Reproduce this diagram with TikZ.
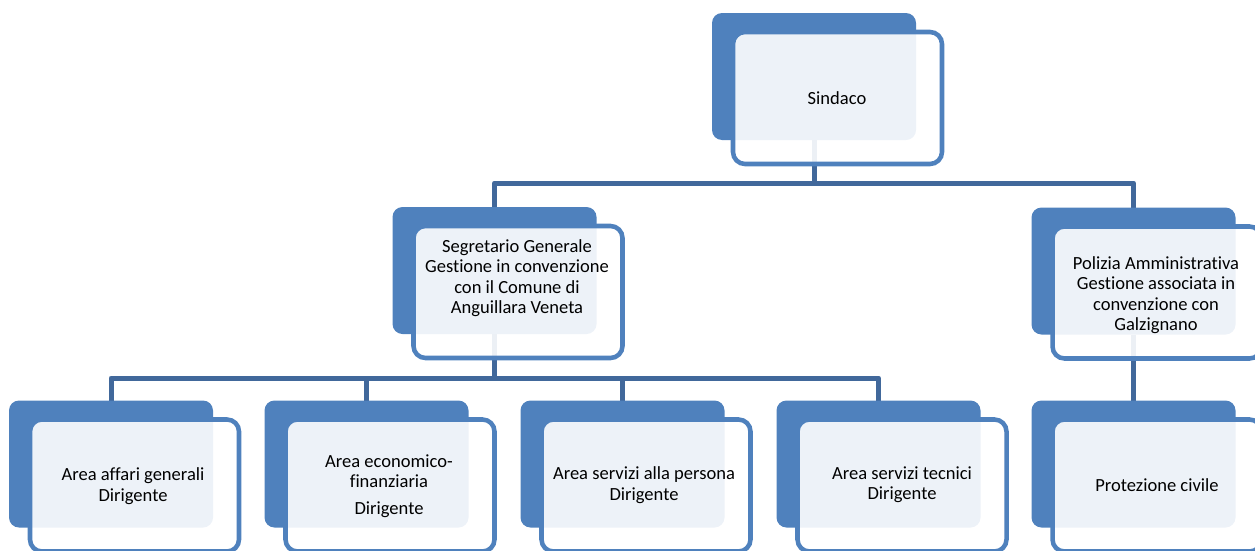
\documentclass[tikz,border=0pt]{standalone}
\usepackage{fontspec}
\setmainfont{Carlito}[Ligatures=NoCommon]
\usetikzlibrary{backgrounds}
\definecolor{accent}{HTML}{4F81BD}
\definecolor{connc}{HTML}{41689B}
\begin{document}
\begin{tikzpicture}[x=0.75pt,y=-0.75pt,
  backbox/.style={fill=accent, draw=none, rounded corners=7.5pt, minimum width=153pt, minimum height=95.25pt, inner sep=0pt, outer sep=0pt},
  frontbox/.style={draw=accent, line width=3.4pt, fill=white, fill opacity=0.9, draw opacity=1, rounded corners=9pt, minimum width=156.75pt, minimum height=99pt, inner sep=0pt, outer sep=0pt},
  boxtext/.style={align=center, font=\fontsize{13.9pt}{15.3pt}\selectfont, text=black, inner sep=0pt},
  conn/.style={draw=connc, line width=3.75pt, line join=round}]
\useasboundingbox (0,0) rectangle (1255,550);
\clip (0,0) rectangle (1255,550);

% back boxes
\node[backbox] (sindB) at (814,76.5) {};
\node[backbox] (segB)  at (494.5,270.5) {};
\node[backbox] (polB)  at (1133.5,271) {};
\node[backbox] (a1B)   at (111,464) {};
\node[backbox] (a2B)   at (366.5,464) {};
\node[backbox] (a3B)   at (622.5,464) {};
\node[backbox] (a4B)   at (878.5,464) {};
\node[backbox] (protB) at (1133.5,464) {};

% front boxes
\node[frontbox] (sindF) at (837.5,98) {};
\node[frontbox] (segF)  at (518,292) {};
\node[frontbox] (polF)  at (1157,292.5) {};
\node[frontbox] (a1F)   at (134.5,485.5) {};
\node[frontbox] (a2F)   at (390,485.5) {};
\node[frontbox] (a3F)   at (646,485.5) {};
\node[frontbox] (a4F)   at (902,485.5) {};
\node[frontbox] (protF) at (1157,485.5) {};

% texts
\node[boxtext] (sindT) at (837,98) {Sindaco};
\node[boxtext] (segT)  at (517,278) {Segretario Generale\\Gestione in convenzione\\con il Comune di\\Anguillara Veneta};
\node[boxtext] (polT)  at (1156,295) {Polizia Amministrativa\\Gestione associata in\\convenzione con\\Galzignano};
\node[boxtext] (a1T)   at (133,486) {Area affari generali\\Dirigente};
\node[boxtext] (a2T)   at (389,486) {Area economico-\\finanziaria\\[4.5pt]Dirigente};
\node[boxtext] (a3T)   at (644,485) {Area servizi alla persona\\Dirigente};
\node[boxtext] (a4T)   at (902,485) {Area servizi tecnici\\Dirigente};
\node[boxtext] (protT) at (1157,485) {Protezione civile};

% connectors
\begin{pgfonlayer}{background}
\draw[conn] (sindB.south) -- ++(0,43) -| (segB.north);
\draw[conn] (sindB.south) -- ++(0,43) -| (polB.north);
\draw[conn] (segB.south) -- ++(0,44) -| (a1B.north);
\draw[conn] (segB.south) -- ++(0,44) -| (a2B.north);
\draw[conn] (segB.south) -- ++(0,44) -| (a3B.north);
\draw[conn] (segB.south) -- ++(0,44) -| (a4B.north);
\draw[conn] (polB.south) -- (protB.north);
\end{pgfonlayer}
\end{tikzpicture}
\end{document}
